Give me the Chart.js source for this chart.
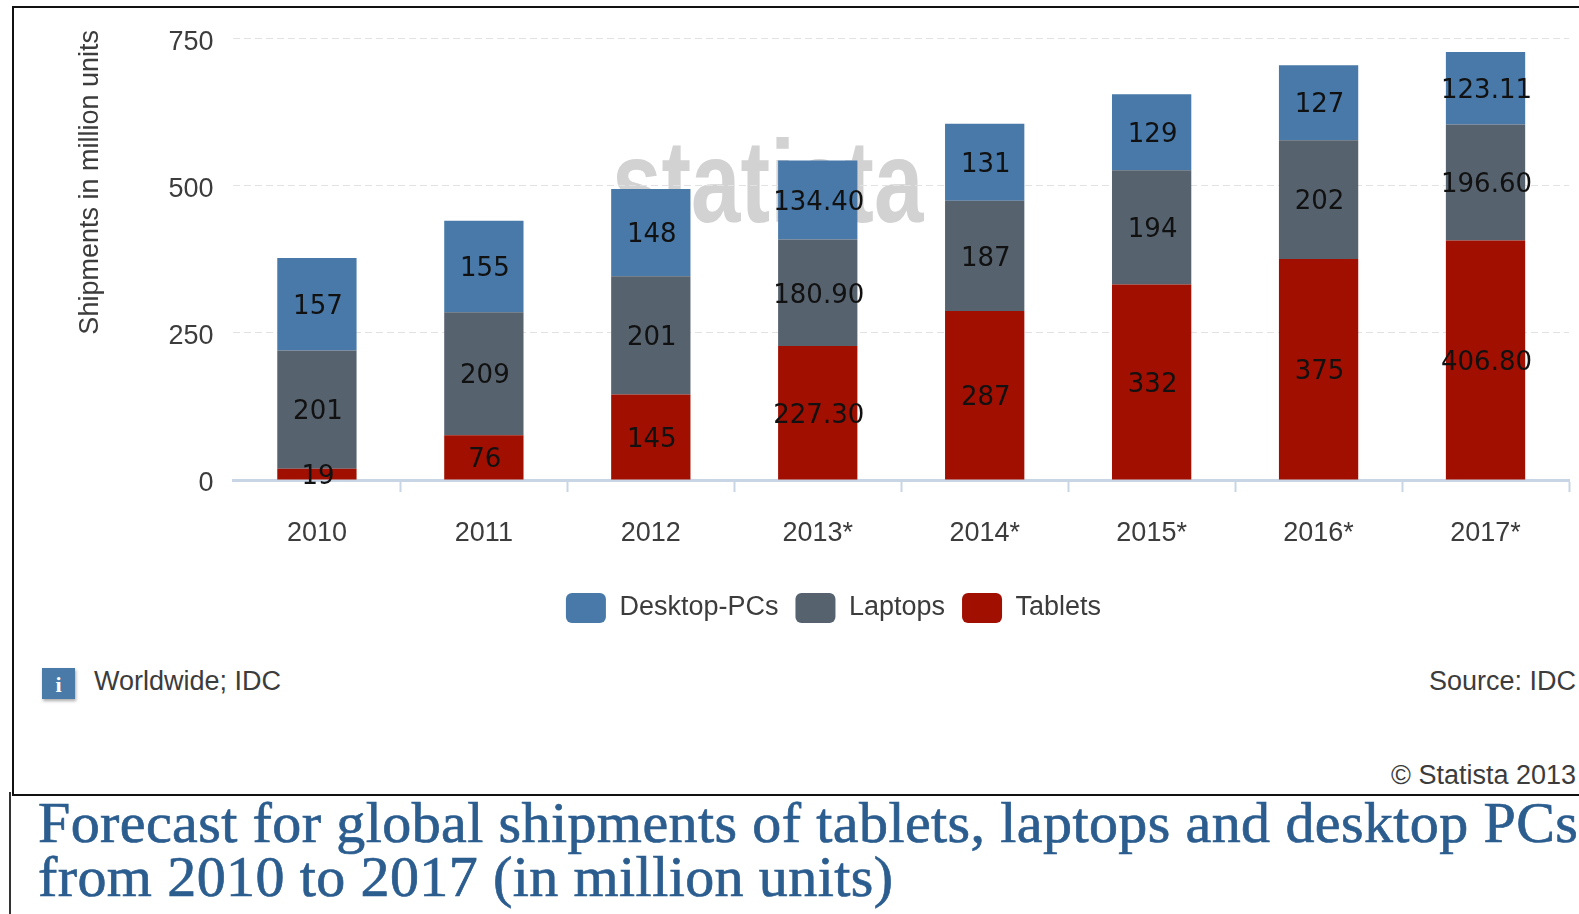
<!DOCTYPE html>
<html>
<head>
<meta charset="utf-8">
<title>Forecast for global shipments</title>
<script src="https://cdn.jsdelivr.net/npm/chart.js@4"></script>
<style>
html, body { margin: 0; padding: 0; background: #fff; overflow: hidden; width: 1579px; height: 914px; }
body { position: relative; font-family: "Liberation Sans", Arial, sans-serif; color: #3c3c3c; }
.abs { position: absolute; white-space: nowrap; }
#frameTop { left: 12px; top: 6px; width: 1567px; height: 786px; border: solid #111; border-width: 2px 0 2px 2px; }
#frameBottom { left: 9px; top: 792px; width: 1570px; height: 122px; border-left: 2px solid #333; }
#watermark { left: 612px; top: 117px; font-size: 117px; font-weight: bold; line-height: 130px; color: #d2d2d2; transform: scaleX(0.76); transform-origin: left top; }
#myChart { position: absolute; left: 0; top: 0; }
#infoIcon { left: 42px; top: 668px; width: 33px; height: 31px; background: #4a7aa8; color: #fff; text-align: center; font: bold 22px/33px "Liberation Serif", serif; box-shadow: 1px 2px 3px #aaa; }
#note { left: 94px; top: 665px; font-size: 27px; line-height: 32px; }
#source { right: 3px; top: 665px; font-size: 27px; line-height: 32px; }
#copyright { right: 3px; top: 759px; font-size: 27px; line-height: 32px; }
#title { left: 38px; top: 796px; font-family: "Liberation Serif", serif; font-size: 58px; letter-spacing: 0.4px; line-height: 54px; color: #2b5d8f; margin: 0; font-weight: normal; -webkit-text-stroke: 0.7px #2b5d8f; }
</style>
</head>
<body>
<div class="abs" id="frameTop"></div>
<div class="abs" id="frameBottom"></div>
<div class="abs" id="watermark">statista</div>
<canvas id="myChart" width="1579" height="636"></canvas>
<div class="abs" id="infoIcon">i</div>
<div class="abs" id="note">Worldwide; IDC</div>
<div class="abs" id="source">Source: IDC</div>
<div class="abs" id="copyright">© Statista 2013</div>
<h1 class="abs" id="title">Forecast for global shipments of tablets, laptops and desktop PCs<br>from 2010 to 2017 (in million units)</h1>
<script>
var years = ['2010', '2011', '2012', '2013*', '2014*', '2015*', '2016*', '2017*'];
var tablets = [19, 76, 145, 227.3, 287, 332, 375, 406.8];
var laptops = [201, 209, 201, 180.9, 187, 194, 202, 196.6];
var desktops = [157, 155, 148, 134.4, 131, 129, 127, 123.11];
var yTicks = [0, 250, 500, 750];

// value labels in the middle of each segment
var segmentLabels = {
    id: 'segmentLabels',
    afterDatasetsDraw: function(chart) {
        var ctx = chart.ctx;
        ctx.save();
        ctx.font = '26px "DejaVu Sans"';
        ctx.fillStyle = '#111';
        ctx.textAlign = 'center';
        ctx.textBaseline = 'middle';
        chart.data.datasets.forEach(function(ds, i) {
            chart.getDatasetMeta(i).data.forEach(function(bar, j) {
                var v = ds.data[j];
                var text = Number.isInteger(v) ? String(v) : v.toFixed(2);
                ctx.fillText(text, bar.x + 1, (bar.y + bar.base) / 2 + 3);
            });
        });
        ctx.restore();
    }
};

// the legend sits right of the canvas centre and a little higher
var moveLegend = {
    id: 'moveLegend',
    afterLayout: function(chart) {
        chart.legend.left += 43;
        chart.legend.right += 43;
        chart.legend.top -= 3;
        chart.legend.bottom -= 3;
    }
};

new Chart(document.getElementById('myChart').getContext('2d'), {
    type: 'bar',
    data: {
        labels: years,
        datasets: [
            { label: 'Tablets', data: tablets, backgroundColor: '#a00f00' },
            { label: 'Laptops', data: laptops, backgroundColor: '#56626e' },
            { label: 'Desktop-PCs', data: desktops, backgroundColor: '#4879a9' }
        ]
    },
    options: {
        responsive: false,
        animation: false,
        layout: { padding: { left: 12, top: 30, right: 10, bottom: 0 } },
        datasets: { bar: { categoryPercentage: 1, barPercentage: 0.475 } },
        plugins: {
            tooltip: { enabled: false },
            legend: {
                position: 'bottom',
                reverse: true,
                labels: {
                    boxWidth: 40,
                    boxHeight: 30,
                    padding: 17,
                    useBorderRadius: true,
                    borderRadius: 6,
                    color: '#3c3c3c',
                    font: { family: '"Liberation Sans"', size: 27 }
                }
            }
        },
        scales: {
            x: {
                stacked: true,
                afterFit: function(scale) { scale.height = 99; },
                border: { color: '#c8d5e4', width: 3 },
                grid: {
                    drawOnChartArea: false,
                    tickLength: 12,
                    tickWidth: 2,
                    tickColor: function(c) {
                        return (c.index === 0 || c.index === years.length) ? 'rgba(0,0,0,0)' : '#c8d5e4';
                    }
                },
                ticks: {
                    padding: 25,
                    color: '#3c3c3c',
                    maxRotation: 0,
                    font: { family: '"Liberation Sans"', size: 27 }
                }
            },
            y: {
                stacked: true,
                min: 0,
                max: 764,
                afterBuildTicks: function(scale) {
                    scale.ticks = yTicks.map(function(v) { return { value: v }; });
                },
                afterFit: function(scale) {
                    // no extra room for the top label, the axis title starts above the plot
                    scale.paddingTop = 0;
                    scale.paddingBottom = 0;
                },
                border: { display: false, dash: [7, 4] },
                grid: { color: '#e2e2e2', drawTicks: false, tickLength: 0 },
                ticks: {
                    padding: 20,
                    labelOffset: 4,
                    color: '#3c3c3c',
                    font: { family: '"Liberation Sans"', size: 27 }
                },
                title: {
                    display: true,
                    text: 'Shipments in million units',
                    align: 'end',
                    color: '#3c3c3c',
                    padding: { top: 62, bottom: 42 },
                    font: { family: '"Liberation Sans"', size: 27 }
                }
            }
        }
    },
    plugins: [segmentLabels, moveLegend]
});
</script>
</body>
</html>
